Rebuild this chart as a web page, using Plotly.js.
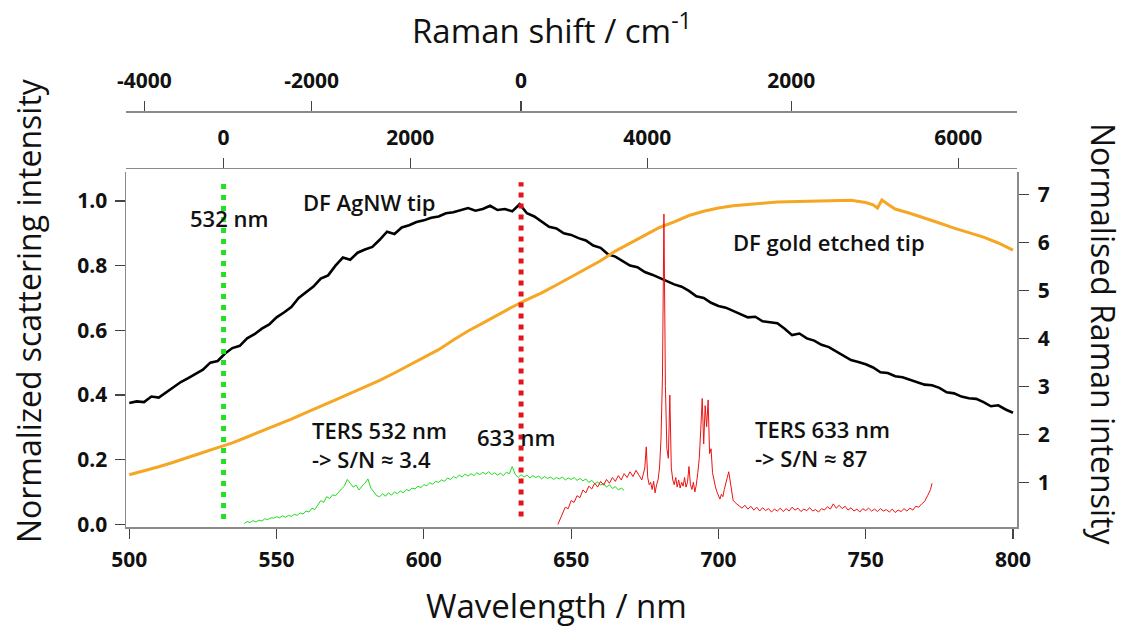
<!DOCTYPE html>
<html>
<head>
<meta charset="utf-8">
<script src="https://cdn.plot.ly/plotly-3.0.1.min.js"></script>
<style>html,body{margin:0;padding:0;background:#fff;}#chart{width:1125px;height:629px;}</style>
</head>
<body>
<div id="chart"></div>
<script>
// ---------- DATA ----------
// Dark-field scattering, AgNW tip (left axis)
const agWl = [500,502.5,505,507.5,510,512.5,515,517.5,520,522.5,525,527.5,530,532.5,535,537.5,540,542.5,545,547.5,550,552.5,555,557.5,560,562.5,565,567.5,570,572.5,575,577.5,580,582.5,585,587.5,590,592.5,595,597.5,600,602.5,605,607.5,610,612.5,615,617.5,620,622.5,625,627.5,630,632.5,635,637.5,640,642.5,645,647.5,650,652.5,655,657.5,660,662.5,665,667.5,670,672.5,675,677.5,680,682.5,685,687.5,690,692.5,695,697.5,700,702.5,705,707.5,710,712.5,715,717.5,720,722.5,725,727.5,730,732.5,735,737.5,740,742.5,745,747.5,750,752.5,755,757.5,760,762.5,765,767.5,770,772.5,775,777.5,780,782.5,785,787.5,790,792.5,795,797.5,800];
const agInt = [0.375,0.380,0.378,0.395,0.392,0.408,0.425,0.440,0.452,0.465,0.478,0.500,0.505,0.528,0.545,0.552,0.575,0.588,0.605,0.618,0.640,0.655,0.672,0.700,0.718,0.735,0.760,0.770,0.800,0.825,0.818,0.840,0.850,0.858,0.880,0.905,0.898,0.918,0.925,0.935,0.940,0.948,0.952,0.962,0.965,0.972,0.978,0.970,0.975,0.985,0.972,0.975,0.968,0.990,0.962,0.952,0.935,0.920,0.915,0.900,0.895,0.885,0.878,0.862,0.855,0.835,0.828,0.815,0.800,0.795,0.780,0.772,0.762,0.752,0.742,0.735,0.722,0.705,0.700,0.685,0.675,0.670,0.660,0.652,0.640,0.642,0.628,0.625,0.622,0.605,0.585,0.590,0.575,0.568,0.555,0.548,0.535,0.520,0.508,0.502,0.495,0.485,0.470,0.468,0.458,0.455,0.448,0.440,0.432,0.430,0.422,0.408,0.405,0.395,0.390,0.388,0.378,0.365,0.368,0.355,0.345];

// Dark-field scattering, gold etched tip (left axis)
const auWl = [500,505,510,515,520,525,530,535,540,545,550,555,560,565,570,575,580,585,590,595,600,605,610,615,620,625,630,635,640,645,650,655,660,665,670,675,680,685,690,695,700,705,710,715,720,725,730,735,740,745,750,752.5,754,755.5,757.5,760,765,770,775,780,785,790,795,800];
const auInt = [0.153,0.165,0.178,0.192,0.206,0.222,0.237,0.252,0.270,0.288,0.306,0.325,0.345,0.366,0.385,0.405,0.425,0.445,0.468,0.492,0.515,0.540,0.570,0.598,0.622,0.648,0.672,0.695,0.716,0.740,0.765,0.790,0.815,0.845,0.870,0.895,0.918,0.935,0.955,0.968,0.978,0.985,0.990,0.993,0.997,0.998,1.000,1.000,1.002,1.002,0.995,0.988,0.978,1.003,0.990,0.975,0.962,0.948,0.932,0.916,0.902,0.888,0.870,0.848];

// TERS spectrum, 532 nm excitation (right axis)
const ters532Wl = [539,540,541,542,543,544,545,546,547,548,549,550,551,552,553,554,555,556,557,558,559,560,561,562,563,564,565,566,567,568,569,570,571,572,573,574,575,576,577,578,579,580,581,582,583,584,585,586,587,588,589,590,591,592,593,594,595,596,597,598,599,600,601,602,603,604,605,606,607,608,609,610,611,612,613,614,615,616,617,618,619,620,621,622,623,624,625,626,627,628,629,630,631,632,633,634,635,636,637,638,639,640,641,642,643,644,645,646,647,648,649,650,651,652,653,654,655,656,657,658,659,660,661,662,663,664,665,666,667,668];
const ters532Int = [0.14,0.18,0.16,0.20,0.17,0.21,0.19,0.24,0.22,0.26,0.25,0.28,0.26,0.30,0.27,0.31,0.29,0.33,0.31,0.36,0.34,0.40,0.38,0.46,0.43,0.52,0.62,0.58,0.70,0.66,0.74,0.72,0.80,0.86,0.92,1.06,0.98,0.90,0.94,0.84,0.92,0.98,1.07,0.88,0.80,0.72,0.70,0.76,0.71,0.78,0.73,0.80,0.76,0.82,0.78,0.85,0.82,0.88,0.86,0.92,0.89,0.95,0.93,0.99,0.96,1.02,1.00,1.05,1.02,1.09,1.06,1.12,1.09,1.15,1.11,1.17,1.13,1.18,1.14,1.20,1.16,1.21,1.17,1.22,1.16,1.20,1.15,1.19,1.14,1.21,1.18,1.33,1.17,1.10,1.16,1.11,1.15,1.09,1.14,1.10,1.13,1.07,1.12,1.08,1.11,1.06,1.10,1.07,1.11,1.05,1.09,1.06,1.10,1.04,1.08,1.03,1.07,1.00,1.04,0.97,1.01,0.94,0.98,0.90,0.95,0.87,0.91,0.84,0.88,0.83];

// TERS spectrum, 633 nm excitation (right axis)
const ters633Wl = [645.5,646,647,648,649,650,651,652,653,654,655,656,657,658,659,660,661,662,663,664,665,666,667,668,669,670,671,672,673,674,675,675.5,676,676.5,677,677.5,678,678.5,679,679.5,680,680.5,681,681.5,682,682.5,683,683.5,684,684.5,685,685.5,686,686.5,687,687.5,688,688.5,689,689.5,690,690.5,691,691.5,692,692.5,693,693.5,694,694.5,695,695.5,696,696.5,697,697.5,698,698.5,699,699.5,700,700.5,701,701.5,702,702.5,703,703.5,704,704.5,705,706,707,708,709,710,711,712,713,714,715,716,717,718,719,720,721,722,723,724,725,726,727,728,729,730,731,732,733,734,735,736,737,738,739,740,741,742,743,744,745,746,747,748,749,750,751,752,753,754,755,756,757,758,759,760,761,762,763,764,765,766,767,768,769,770,771,772,772.5];
const ters633Int = [0.12,0.20,0.35,0.48,0.45,0.62,0.58,0.72,0.68,0.84,0.78,0.92,0.86,0.98,0.90,1.02,0.94,1.06,0.98,1.10,1.02,1.14,1.05,1.18,1.10,1.22,1.12,1.25,1.15,1.05,1.30,1.74,1.10,0.95,1.00,0.85,1.02,0.78,0.95,1.05,1.30,1.90,3.20,6.60,3.00,1.70,1.50,2.82,1.30,1.05,0.95,1.10,0.90,1.05,0.88,1.00,0.92,1.10,0.90,1.00,1.33,0.95,0.85,1.00,0.80,0.95,1.20,1.50,2.10,2.75,1.80,2.60,2.16,2.72,1.60,1.70,1.20,1.00,0.90,0.80,0.72,0.65,0.75,0.70,0.85,0.95,1.10,1.22,1.00,0.80,0.62,0.56,0.50,0.46,0.52,0.44,0.50,0.42,0.48,0.40,0.47,0.41,0.45,0.38,0.44,0.40,0.46,0.39,0.45,0.40,0.48,0.42,0.46,0.39,0.44,0.41,0.47,0.40,0.43,0.38,0.45,0.42,0.49,0.44,0.55,0.46,0.52,0.45,0.50,0.42,0.47,0.40,0.44,0.38,0.45,0.41,0.46,0.40,0.44,0.39,0.45,0.40,0.43,0.38,0.44,0.37,0.42,0.39,0.45,0.40,0.46,0.42,0.50,0.48,0.55,0.60,0.72,0.85,0.98];

// Laser lines (nm) and the vertical extent of their dotted markers (left-axis units)
const laserWl = [532, 633];
const laserLineLow = [0.016, 0.024];
const laserLineHigh = [1.055, 1.058];

// Axis ticks
const wlTicks = [500, 550, 600, 650, 700, 750, 800];
const leftTicks = [0.0, 0.2, 0.4, 0.6, 0.8, 1.0];
const rightTicks = [1, 2, 3, 4, 5, 6, 7];
const shiftTicks532 = [0, 2000, 4000, 6000];
const shiftTicks633 = [-4000, -2000, 0, 2000];

// ---------- CHART ----------
const FONT = 'Open Sans, Noto Sans, sans-serif';
const toWl = (laser, shift) => 1e7 / (1e7 / laser - shift);

const traces = [
  {x: agWl, y: agInt, xaxis: 'x', yaxis: 'y', mode: 'lines', line: {color: '#000000', width: 2.6}, hoverinfo: 'skip', name: 'DF AgNW tip'},
  {x: auWl, y: auInt, xaxis: 'x', yaxis: 'y', mode: 'lines', line: {color: '#f5a623', width: 3}, hoverinfo: 'skip', name: 'DF gold etched tip'},
  {x: [laserWl[0], laserWl[0]], y: [laserLineLow[0], laserLineHigh[0]], xaxis: 'x', yaxis: 'y', mode: 'lines', line: {color: '#22e022', width: 5, dash: '5px,6px'}, hoverinfo: 'skip', name: '532 nm'},
  {x: [laserWl[1], laserWl[1]], y: [laserLineLow[1], laserLineHigh[1]], xaxis: 'x', yaxis: 'y', mode: 'lines', line: {color: '#e3141b', width: 5, dash: '5px,6px'}, hoverinfo: 'skip', name: '633 nm'},
  {x: ters532Wl, y: ters532Int, xaxis: 'x', yaxis: 'y2', mode: 'lines', line: {color: '#1fdc1f', width: 1}, hoverinfo: 'skip', name: 'TERS 532 nm'},
  {x: ters633Wl, y: ters633Int, xaxis: 'x', yaxis: 'y2', mode: 'lines', line: {color: '#ee1111', width: 1}, hoverinfo: 'skip', name: 'TERS 633 nm'},
  {x: [], y: [], xaxis: 'x2', yaxis: 'y', hoverinfo: 'skip', showlegend: false},
  {x: [], y: [], xaxis: 'x3', yaxis: 'y', hoverinfo: 'skip', showlegend: false}
];

const xRange = [498.88, 801.36];
const tickFont = {family: FONT, size: 21, color: '#111', weight: 'bold'};
const axisCommon = {
  showgrid: false, zeroline: false, showline: true, linecolor: '#8a8a8a', linewidth: 1.5,
  ticks: 'outside', ticklen: 10, tickwidth: 1.2, tickcolor: '#444', tickfont: tickFont
};
const annFont = {family: FONT, size: 22, color: '#111', weight: 600};

const layout = {
  width: 1125, height: 629,
  margin: {l: 126, r: 108, t: 100, b: 102},
  paper_bgcolor: '#ffffff', plot_bgcolor: '#ffffff',
  showlegend: false,
  font: {family: FONT, color: '#111'},
  xaxis: Object.assign({}, axisCommon, {
    range: xRange, domain: [0, 1], anchor: 'y',
    tickvals: wlTicks, ticktext: wlTicks.map(String), ticklabelstandoff: 3
  }),
  xaxis2: Object.assign({}, axisCommon, {
    range: xRange, overlaying: 'x', side: 'top', anchor: 'free', position: 0.8415,
    tickvals: shiftTicks532.map(s => toWl(laserWl[0], s)), ticktext: shiftTicks532.map(String),
    ticklabelstandoff: 4
  }),
  xaxis3: Object.assign({}, axisCommon, {
    range: xRange, overlaying: 'x', side: 'top', anchor: 'free', position: 0.9742,
    tickvals: shiftTicks633.map(s => toWl(laserWl[1], s)), ticktext: shiftTicks633.map(String),
    ticklabelstandoff: 5
  }),
  yaxis: Object.assign({}, axisCommon, {
    range: [-0.0084, 1.0896], domain: [0, 0.8314], anchor: 'x',
    tickvals: leftTicks, ticktext: leftTicks.map(v => v.toFixed(1)), ticklabelstandoff: 3
  }),
  yaxis2: Object.assign({}, axisCommon, {
    range: [0.067, 7.478], overlaying: 'y', side: 'right', anchor: 'x',
    tickvals: rightTicks, ticktext: rightTicks.map(String), ticklabelstandoff: 5
  }),
  annotations: [
    {text: 'Raman shift / cm<sup>-1</sup>', xref: 'paper', yref: 'paper', x: 0.478, y: 1.1686, showarrow: false, font: {family: FONT, size: 33, color: '#111'}, xanchor: 'center', yanchor: 'middle'},
    {text: 'Wavelength / nm', xref: 'paper', yref: 'paper', x: 0.4834, y: -0.185, showarrow: false, font: {family: FONT, size: 33, color: '#111'}, xanchor: 'center', yanchor: 'middle'},
    {text: 'Normalized scattering intensity', xref: 'paper', yref: 'paper', x: -0.110, y: 0.508, textangle: -90, showarrow: false, font: {family: FONT, size: 32, color: '#111'}, xanchor: 'center', yanchor: 'middle'},
    {text: 'Normalised Raman intensity', xref: 'paper', yref: 'paper', x: 1.0965, y: 0.452, textangle: 90, showarrow: false, font: {family: FONT, size: 32, color: '#111'}, xanchor: 'center', yanchor: 'middle'},
    {text: '532 nm', xref: 'x', yref: 'y', x: 533.9, y: 0.948, showarrow: false, font: annFont, xanchor: 'center', yanchor: 'middle'},
    {text: 'DF AgNW tip', xref: 'x', yref: 'y', x: 581.7, y: 0.996, showarrow: false, font: annFont, xanchor: 'center', yanchor: 'middle'},
    {text: 'DF gold etched tip', xref: 'x', yref: 'y', x: 737.7, y: 0.874, showarrow: false, font: annFont, xanchor: 'center', yanchor: 'middle'},
    {text: 'TERS 532 nm<br>-> S/N ≈ 3.4', xref: 'x', yref: 'y', x: 561.2, y: 0.248, showarrow: false, align: 'left', font: annFont, xanchor: 'left', yanchor: 'middle'},
    {text: '633 nm', xref: 'x', yref: 'y', x: 631.4, y: 0.269, showarrow: false, font: annFont, xanchor: 'center', yanchor: 'middle'},
    {text: 'TERS 633 nm<br>-> S/N ≈ 87', xref: 'x', yref: 'y', x: 711.6, y: 0.251, showarrow: false, align: 'left', font: annFont, xanchor: 'left', yanchor: 'middle'}
  ]
};

Plotly.newPlot('chart', traces, layout, {staticPlot: true, displayModeBar: false});
</script>
</body>
</html>
